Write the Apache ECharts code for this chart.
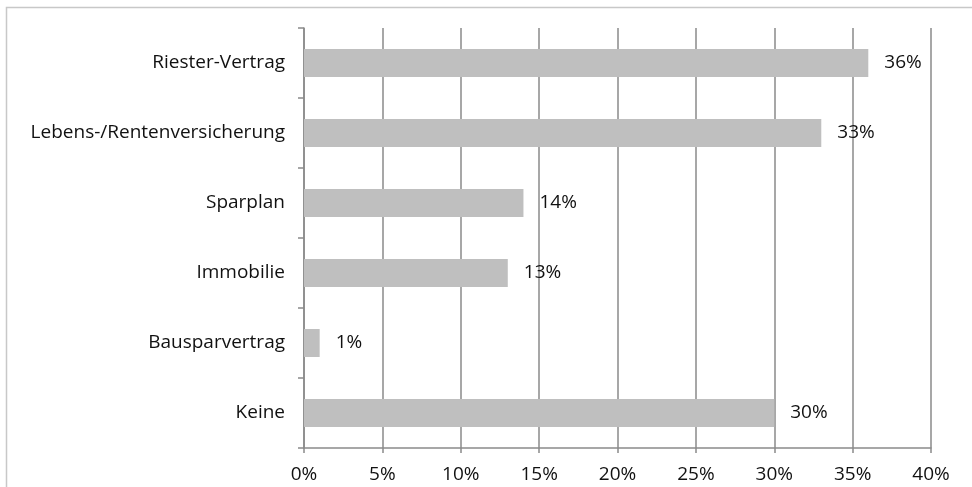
<!DOCTYPE html>
<html>
<head>
<meta charset="utf-8">
<script src="https://cdn.jsdelivr.net/npm/echarts@6/dist/echarts.min.js"></script>
<style>
  html, body { margin: 0; padding: 0; background: #ffffff; }
  #chart { width: 972px; height: 487px; }
</style>
</head>
<body>
<div id="chart"></div>
<script>
// Vorsorgeformen, top to bottom
const categories = ['Riester-Vertrag', 'Lebens-/Rentenversicherung', 'Sparplan', 'Immobilie', 'Bausparvertrag', 'Keine'];
// Anteil in Prozent
const shares = [36, 33, 14, 13, 1, 30];
// x-axis range and step (percent)
const xMin = 0;
const xMax = 40;
const xStep = 5;

const FONT = '"Open Sans", "Noto Sans", sans-serif';
const FONT_SIZE = 19;
const LINE = '#8a8a8a';

const chart = echarts.init(document.getElementById('chart'), null, { renderer: 'canvas' });

chart.setOption({
  animation: false,
  backgroundColor: '#ffffff',
  graphic: [{
    type: 'rect',
    silent: true,
    shape: { x: 6.5, y: 7.5, width: 1200, height: 1200 },
    style: { fill: 'none', stroke: '#c8c8c8', lineWidth: 1.5 }
  }],
  grid: { left: 304, right: 41, top: 28, bottom: 39, containLabel: false },
  xAxis: {
    type: 'value',
    min: xMin,
    max: xMax,
    interval: xStep,
    axisLine: { show: true, lineStyle: { color: LINE, width: 1.5 } },
    axisTick: { show: true, length: 5, lineStyle: { color: LINE, width: 1.5 } },
    splitLine: { show: true, lineStyle: { color: LINE, width: 1.5 } },
    axisLabel: {
      formatter: '{value}%',
      color: '#111111',
      fontFamily: FONT,
      fontSize: FONT_SIZE,
      margin: 17
    }
  },
  yAxis: {
    type: 'category',
    data: categories,
    inverse: true,
    axisLine: { show: true, lineStyle: { color: LINE, width: 1.5 } },
    axisTick: { show: true, length: 6, lineStyle: { color: LINE, width: 1.5 } },
    splitLine: { show: false },
    axisLabel: {
      color: '#111111',
      fontFamily: FONT,
      fontSize: FONT_SIZE,
      margin: 19
    }
  },
  series: [{
    type: 'bar',
    data: shares,
    barWidth: '40%',
    itemStyle: { color: '#bfbfbf' },
    label: {
      show: true,
      position: 'right',
      distance: 16,
      formatter: '{c}%',
      color: '#111111',
      fontFamily: FONT,
      fontSize: FONT_SIZE
    }
  }]
});
</script>
</body>
</html>
